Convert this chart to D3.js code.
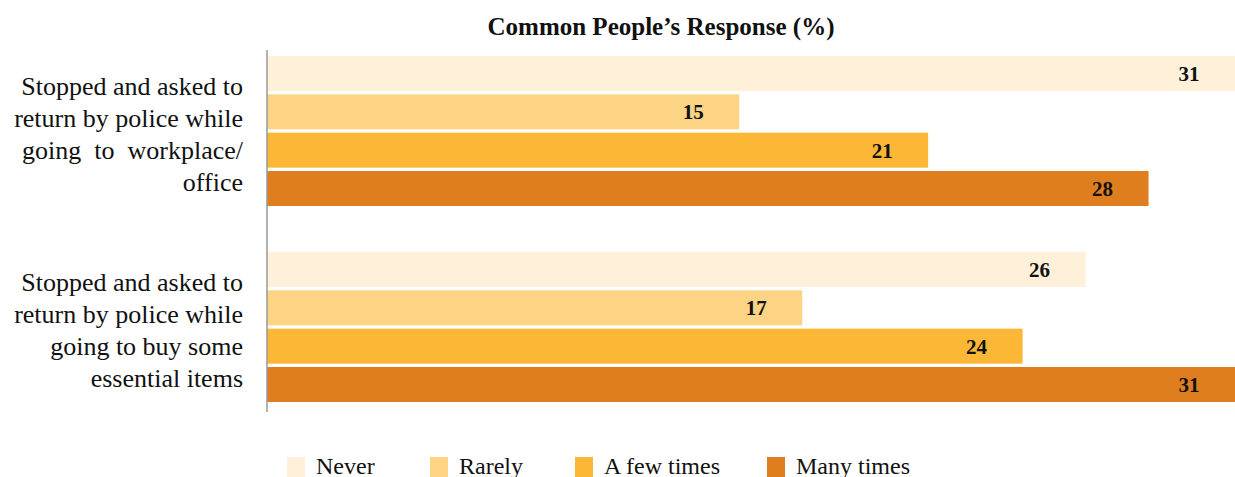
<!DOCTYPE html>
<html><head><meta charset="utf-8">
<script src="https://cdn.jsdelivr.net/npm/d3@7"></script>
<style>body{margin:0;background:#fff}svg{display:block}</style>
</head><body>
<svg id="c" width="1235" height="477"></svg>
<script>
const title = "Common People’s Response (%)";
const categories = [
  ["Stopped and asked to","return by police while","going  to  workplace/","office"],
  ["Stopped and asked to","return by police while","going to buy some","essential items"]
];
const seriesNames = ["Never","Rarely","A few times","Many times"];
const colors = ["#FEF0D9","#FDD384","#FBB735","#DF7E1F"];
const never = [31, 26];
const rarely = [15, 17];
const fewTimes = [21, 24];
const manyTimes = [28, 31];
const seriesValues = [never, rarely, fewTimes, manyTimes];

const svg = d3.select("#c");
const font = "'Liberation Serif', 'DejaVu Serif', serif";

const x = d3.scaleLinear().domain([0, 31]).range([267, 1243]);
const y0 = d3.scaleBand().domain([0,1]).range([56, 402]).paddingInner(0.2347).paddingOuter(0);
const y1 = d3.scaleBand().domain(d3.range(seriesNames.length)).range([0, y0.bandwidth()]).paddingInner(0.087).paddingOuter(0);

svg.append("text").attr("x", 661).attr("y", 35).attr("text-anchor","middle")
  .attr("font-family", font).attr("font-weight","bold").attr("font-size", 25).attr("fill","#111").text(title);

const g = svg.append("g");
categories.forEach((cat, ci) => {
  seriesNames.forEach((s, si) => {
    const v = seriesValues[si][ci];
    const yy = y0(ci) + y1(si);
    g.append("rect").attr("x", x(0)).attr("y", yy).attr("width", x(v) - x(0)).attr("height", y1.bandwidth()).attr("fill", colors[si]);
    g.append("text").attr("x", Math.min(x(v), 1235) - 46).attr("y", yy + y1.bandwidth()/2)
      .attr("dy","0.35em").attr("text-anchor","middle").attr("font-family", font)
      .attr("font-weight","bold").attr("font-size", 21).attr("fill","#111").text(v);
  });
  const cy = y0(ci) + y0.bandwidth()/2 + 3;
  const lh = 32;
  cat.forEach((line, li) => {
    svg.append("text").attr("x", 243).attr("y", cy + (li - (cat.length-1)/2) * lh)
      .attr("dy","0.35em").attr("text-anchor","end").attr("font-family", font)
      .attr("font-size", 26).attr("fill","#111").style("white-space","pre").text(line);
  });
});

svg.append("line").attr("x1", x(0)).attr("x2", x(0)).attr("y1", 50).attr("y2", 412)
  .attr("stroke","#999").attr("stroke-width",1.5);

const legX = [287, 430, 575, 767];
seriesNames.forEach((s, i) => {
  svg.append("rect").attr("x", legX[i]).attr("y", 457).attr("width", 18).attr("height", 20).attr("fill", colors[i]);
  svg.append("text").attr("x", legX[i] + 29).attr("y", 473.5).attr("font-family", font)
    .attr("font-size", 24).attr("fill","#111").text(s);
});
</script>
</body></html>
